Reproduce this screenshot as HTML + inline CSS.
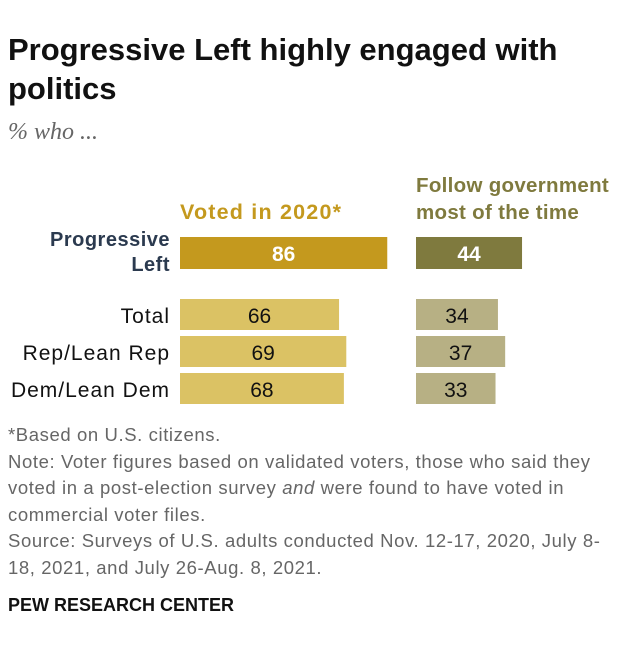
<!DOCTYPE html>
<html><head><meta charset="utf-8"><style>
body{margin:0;width:620px;height:654px;background:#fff;font-family:"Liberation Sans",sans-serif;position:relative;overflow:hidden}
.a{position:absolute;white-space:nowrap}
</style></head><body>
<div class="a" style="left:8px;top:30px;font-size:31px;font-weight:bold;line-height:39px;color:#111">Progressive Left highly engaged with<br>politics</div>
<div class="a" style="left:8px;top:119px;font-family:'Liberation Serif',serif;font-style:italic;font-size:24px;color:#666">% who ...</div>
<div class="a" style="left:180px;top:200px;font-size:21.5px;letter-spacing:1.2px;font-weight:bold;color:#C4991E">Voted in 2020*</div>
<div class="a" style="left:416px;top:172px;font-size:20.5px;letter-spacing:0.3px;font-weight:bold;line-height:27px;color:#7F7A3E">Follow government<br>most of the time</div>
<svg id="c" class="a" style="left:0;top:0" width="620" height="654"></svg>
<div class="a" style="left:8px;top:422px;font-size:18.5px;letter-spacing:0.6px;line-height:26.5px;color:#666">*Based on U.S. citizens.<br>Note: Voter figures based on validated voters, those who said they<br>voted in a post-election survey <i>and</i> were found to have voted in<br>commercial voter files.<br>Source: Surveys of U.S. adults conducted Nov. 12-17, 2020, July 8-<br>18, 2021, and July 26-Aug. 8, 2021.</div>
<div class="a" style="left:8px;top:595px;font-size:18px;font-weight:bold;color:#111">PEW RESEARCH CENTER</div>
<script>
const categories=["Progressive Left","Total","Rep/Lean Rep","Dem/Lean Dem"];
const voted=[86,66,69,68];
const follow=[44,34,37,33];
const NS="http://www.w3.org/2000/svg";
const svg=document.getElementById('c');
const sx=v=>v*2.41;
const rowY=[237,299,336,373], bh=31;
function add(tag,attrs,txt){const e=document.createElementNS(NS,tag);for(const k in attrs)e.setAttribute(k,attrs[k]);if(txt!=null)e.textContent=txt;svg.appendChild(e);return e;}
categories.forEach((c,i)=>{
  const y=rowY[i],hi=i===0;
  if(hi){
    const t=add('text',{x:170,y:y+9,'text-anchor':'end','font-size':20,'font-weight':'bold',fill:'#2b3a4f','letter-spacing':0.5});
    const s1=document.createElementNS(NS,'tspan');s1.setAttribute('x',170);s1.textContent='Progressive';t.appendChild(s1);
    const s2=document.createElementNS(NS,'tspan');s2.setAttribute('x',170);s2.setAttribute('dy',25);s2.textContent='Left';t.appendChild(s2);
    
    
  } else {
    const t=add('text',{x:170,y:y+24,'text-anchor':'end','font-size':21,'letter-spacing':1,fill:'#111'},c);
    
    
  }
  const w1=sx(voted[i]);
  const r1=add('rect',{x:180,y:y,width:w1,height:bh+(hi?1:0),fill:hi?'#C4991E':'#DBC264'});
  
  
  const l1=add('text',{x:180+w1/2,y:y+24,'text-anchor':'middle','font-size':21,'font-weight':hi?'bold':'normal',fill:hi?'#fff':'#111'},voted[i]);
  
  
  const w2=sx(follow[i]);
  const r2=add('rect',{x:416,y:y,width:w2,height:bh+(hi?1:0),fill:hi?'#7F7A3E':'#B7B084'});
  
  
  const l2=add('text',{x:416+w2/2,y:y+24,'text-anchor':'middle','font-size':21,'font-weight':hi?'bold':'normal',fill:hi?'#fff':'#111'},follow[i]);
  
  
});
</script>
</body></html>
